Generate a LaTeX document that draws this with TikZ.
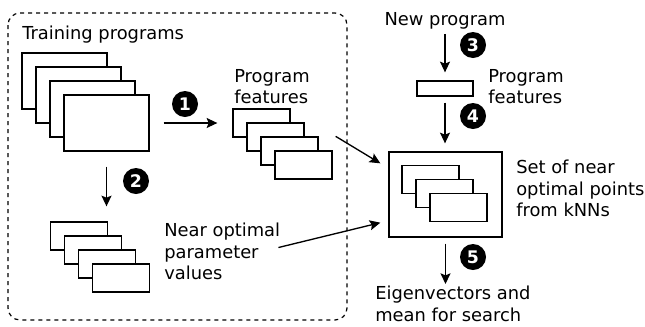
\documentclass[tikz,border=0pt]{standalone}
\usepackage{fontspec}
\setmainfont{DejaVu Sans}
\usetikzlibrary{arrows.meta, positioning, calc}

\tikzset{
  sheet/.style={draw, fill=white, line width=1pt, inner sep=0pt},
  bigsheet/.style={sheet, minimum width=63.75pt, minimum height=42pt},
  featsheet/.style={sheet, minimum width=42.75pt, minimum height=21pt},
  stepnum/.style={circle, fill=black, text=white, inner sep=0pt, minimum size=19.5pt,
    font=\fontsize{13}{13}\selectfont\bfseries},
  txt/.style={inner sep=0pt, align=left, font=\fontsize{13.4}{16}\selectfont},
  flow/.style={line width=1pt, -{Stealth[length=8pt, width=7.5pt, inset=1.5pt]}}
}

\begin{document}
\begin{tikzpicture}[x=0.75pt, y=-0.75pt]
    \useasboundingbox (0,0) rectangle (645,326);

    % Training set frame
    \draw[dashed, line width=0.9pt, rounded corners=9pt] (8,13) rectangle (347,320);

    % Training programs
    \node[txt, anchor=base west] (tplabel) at (22,39) {Training programs};
    \node[bigsheet] (tp1) at (64.5,81) {};
    \node[bigsheet] (tp2) at (78.5,95) {};
    \node[bigsheet] (tp3) at (92.5,109) {};
    \node[bigsheet] (tp4) at (106.5,123) {};

    % Program features
    \node[txt, anchor=north west] (pflabel) at (234,69) {Program\\features};
    \node[featsheet] (pf1) at (261.5,123) {};
    \node[featsheet] (pf2) at (275.5,137) {};
    \node[featsheet] (pf3) at (289.5,151) {};
    \node[featsheet] (pf4) at (303.5,165) {};

    % Near optimal parameter values
    \node[featsheet] (no1) at (79,236) {};
    \node[featsheet] (no2) at (93,250) {};
    \node[featsheet] (no3) at (107,264) {};
    \node[featsheet] (no4) at (121,278) {};
    \node[txt, anchor=north west] (nolabel) at (164,223) {Near optimal\\parameter\\values};

    % Steps 1 and 2
    \draw[flow, shorten <=10.5pt, shorten >=11.25pt] (tp4.east) -- (pf1.west);
    \node[stepnum] (s1) at (185,104) {1};
    \draw[flow, shorten <=11.25pt, shorten >=11.25pt] (tp4.south) -- (tp4.south |- no1.north);
    \node[stepnum] (s2) at (136,181) {2};

    % New program
    \node[txt, anchor=base] (newprog) at (445,25) {New program};
    \node[sheet, minimum width=42pt, minimum height=11.25pt] (np) at (445,88.5) {};
    \node[txt, anchor=north west] (nplabel) at (488,69) {Program\\features};
    \draw[flow, shorten <=3.75pt, shorten >=6pt] (newprog.south) -- (np.north);
    \node[stepnum] (s3) at (473,45) {3};

    % kNN set
    \node[sheet, minimum width=84.75pt, minimum height=63.75pt] (knn) at (445.5,194.5) {};
    \node[featsheet] (kn1) at (430.5,179.5) {};
    \node[featsheet] (kn2) at (444.5,193.5) {};
    \node[featsheet] (kn3) at (458.5,207.5) {};
    \node[txt, anchor=north west] (knnlabel) at (516,160) {Set of near\\optimal points\\from kNNs};
    \draw[flow, shorten <=4.5pt, shorten >=6pt] (np.south) -- (np.south |- knn.north);
    \node[stepnum] (s4) at (473,116) {4};

    % Into the kNN set
    \coordinate (pfout) at ($(pf4.north east)+(3,-14)$);
    \coordinate (knnin1) at ($(knn.north west)+(-8,12)$);
    \coordinate (knnin2) at ($(knn.south west)+(-8,-15)$);
    \draw[flow] (pfout) -- (knnin1);
    \draw[flow] ($(nolabel.east)+(-2,-4)$) -- (knnin2);

    % Result
    \node[txt, anchor=north west] (eigen) at (375,286) {Eigenvectors and\\mean for search};
    \draw[flow, shorten <=4.5pt, shorten >=1.5pt] (knn.south) -- (knn.south |- eigen.north);
    \node[stepnum] (s5) at (473,257) {5};
\end{tikzpicture}
\end{document}
